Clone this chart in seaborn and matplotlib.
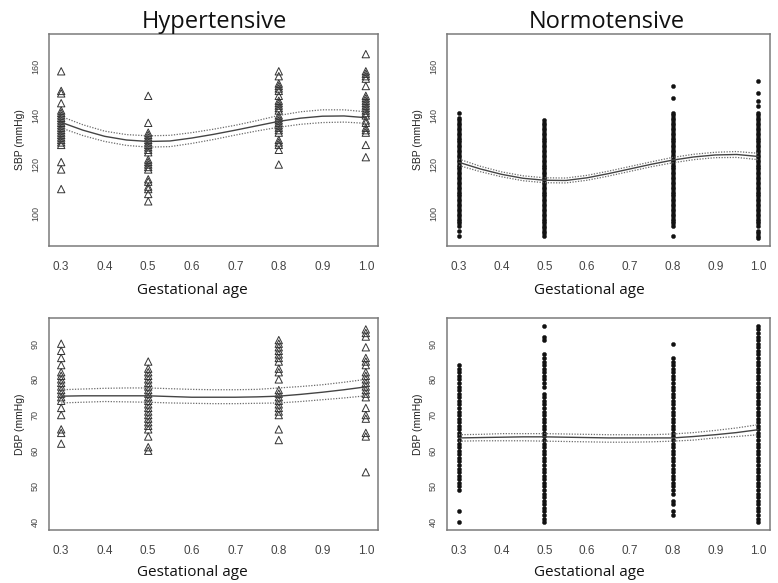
import matplotlib
matplotlib.use("Agg")
import matplotlib.pyplot as plt
import seaborn as sns
import numpy as np
import pandas as pd

# --- DATA ---
GA_LEVELS = [0.3, 0.5, 0.8, 1.0]

# Hypertensive, SBP (mmHg) observed per gestational age
HT_SBP = {
    0.3: [158, 150, 149, 145, 142, 141, 140, 139, 138, 137, 136, 135, 134, 133, 132, 131, 130, 129, 128, 121, 118, 110],
    0.5: [148, 137, 133, 132, 131, 130, 129, 128, 127, 126, 125, 122, 121, 120, 119, 118, 114, 113, 111, 110, 108, 105],
    0.8: [158, 156, 153, 152, 151, 150, 148, 146, 145, 144, 143, 142, 140, 139, 138, 137, 136, 135, 134, 133, 130, 129, 128, 126, 120],
    1.0: [165, 158, 157, 156, 155, 152, 148, 147, 146, 145, 144, 143, 142, 141, 140, 138, 137, 135, 134, 133, 128, 123],
}
# Hypertensive, DBP (mmHg)
HT_DBP = {
    0.3: [90, 88, 86, 84, 82, 81, 80, 79, 78, 77, 76, 75, 74, 72, 70, 66, 65, 62],
    0.5: [85, 83, 82, 81, 80, 79, 78, 77, 76, 75, 74, 73, 72, 71, 70, 69, 68, 67, 66, 64, 61, 60],
    0.8: [91, 90, 89, 88, 87, 86, 85, 83, 82, 80, 77, 76, 75, 74, 73, 72, 71, 70, 66, 63],
    1.0: [94, 93, 92, 89, 86, 85, 84, 82, 81, 80, 79, 78, 77, 76, 75, 72, 70, 69, 65, 64, 54],
}
# Normotensive, SBP (mmHg)
NT_SBP = {
    0.3: [91, 93, 95, 96, 97, 98, 99, 100, 101, 102, 103, 104, 105, 106, 107, 108, 109, 110, 111, 112,
          113, 114, 115, 116, 117, 118, 119, 120, 121, 122, 123, 124, 125, 126, 127, 128, 129, 130, 131,
          132, 133, 134, 135, 136, 137, 138, 139, 141],
    0.5: [91, 92, 93, 94, 95, 96, 97, 98, 99, 100, 101, 102, 103, 104, 105, 106, 107, 108, 109, 110, 111,
          112, 113, 114, 115, 116, 117, 118, 119, 120, 121, 122, 123, 124, 125, 126, 127, 128, 129, 130,
          131, 132, 133, 134, 135, 136, 137, 138],
    0.8: [91, 95, 96, 97, 98, 99, 100, 101, 102, 103, 104, 105, 106, 107, 108, 109, 110, 111, 112, 113,
          114, 115, 116, 117, 118, 119, 120, 121, 122, 123, 124, 125, 126, 127, 128, 129, 130, 131, 132,
          133, 134, 135, 136, 137, 138, 139, 140, 141, 147, 152],
    1.0: [90, 91, 92, 93, 95, 96, 97, 98, 99, 100, 101, 102, 103, 104, 105, 106, 107, 108, 109, 110, 111,
          112, 113, 114, 115, 116, 117, 118, 119, 120, 121, 122, 123, 124, 125, 126, 127, 128, 129, 130,
          131, 132, 133, 134, 135, 136, 137, 138, 139, 140, 141, 144, 146, 149, 154],
}
# Normotensive, DBP (mmHg)
NT_DBP = {
    0.3: [40, 43, 49, 50, 51, 52, 53, 54, 55, 56, 57, 58, 59, 60, 61, 62, 63, 64, 65, 66, 67, 68, 69, 70,
          71, 72, 73, 74, 75, 76, 77, 78, 79, 80, 81, 82, 83, 84],
    0.5: [40, 41, 42, 43, 44, 45, 46, 47, 48, 49, 50, 51, 52, 53, 54, 55, 56, 57, 58, 59, 60, 61, 62, 63,
          64, 65, 66, 67, 68, 69, 70, 71, 72, 73, 74, 75, 76, 78, 79, 80, 81, 82, 83, 84, 85, 86, 87,
          91, 92, 95],
    0.8: [42, 43, 45, 46, 48, 49, 50, 51, 52, 53, 54, 55, 56, 57, 58, 59, 60, 61, 62, 63, 64, 65, 66, 67,
          68, 69, 70, 71, 72, 73, 74, 75, 76, 77, 78, 79, 80, 81, 82, 83, 84, 85, 86, 90],
    1.0: [40, 41, 42, 43, 44, 45, 46, 47, 48, 49, 50, 51, 52, 53, 54, 55, 56, 57, 58, 59, 60, 61, 62, 63,
          64, 65, 66, 67, 68, 69, 70, 71, 72, 73, 74, 75, 76, 77, 78, 79, 80, 81, 82, 83, 84, 85, 86, 87,
          88, 89, 90, 91, 92, 93, 94, 95],
}

# Fitted curves with confidence bands (read at these gestational ages)
FIT_X = [0.30, 0.35, 0.40, 0.45, 0.50, 0.55, 0.60, 0.65, 0.70, 0.75, 0.80, 0.85, 0.90, 0.95, 1.00]

HT_SBP_FIT = [137.2, 134.0, 131.5, 130.0, 129.4, 129.6, 130.8, 132.3, 134.0, 135.8, 137.6, 138.9, 139.7, 139.8, 139.1]
HT_SBP_UP = [139.6, 136.2, 133.6, 132.2, 131.7, 131.9, 133.0, 134.4, 136.0, 137.9, 140.0, 141.5, 142.3, 142.3, 141.5]
HT_SBP_LO = [134.9, 131.8, 129.4, 127.8, 127.1, 127.3, 128.6, 130.2, 132.0, 133.7, 135.2, 136.4, 137.1, 137.3, 136.8]

NT_SBP_FIT = [120.9, 118.2, 116.0, 114.4, 113.6, 113.5, 114.6, 116.3, 118.2, 120.1, 121.8, 123.1, 123.9, 124.1, 123.3]
NT_SBP_UP = [122.2, 119.3, 117.0, 115.4, 114.6, 114.5, 115.6, 117.3, 119.2, 121.1, 122.9, 124.2, 125.0, 125.3, 124.6]
NT_SBP_LO = [119.6, 117.1, 115.0, 113.4, 112.6, 112.5, 113.6, 115.3, 117.2, 119.1, 120.7, 122.0, 122.8, 122.9, 122.0]

HT_DBP_FIT = [75.3, 75.4, 75.4, 75.4, 75.4, 75.2, 75.0, 75.0, 75.0, 75.1, 75.3, 75.8, 76.4, 77.1, 77.9]
HT_DBP_UP = [77.1, 77.3, 77.5, 77.6, 77.6, 77.4, 77.2, 77.1, 77.1, 77.2, 77.6, 78.0, 78.5, 79.2, 80.0]
HT_DBP_LO = [73.4, 73.6, 73.8, 73.7, 73.6, 73.4, 73.3, 73.2, 73.2, 73.3, 73.4, 73.8, 74.3, 74.8, 75.4]

NT_DBP_FIT = [63.6, 63.7, 63.8, 63.9, 63.9, 63.8, 63.7, 63.6, 63.6, 63.6, 63.6, 64.0, 64.5, 65.1, 65.9]
NT_DBP_UP = [64.5, 64.6, 64.8, 64.8, 64.8, 64.7, 64.6, 64.5, 64.5, 64.5, 64.7, 65.1, 65.7, 66.4, 67.3]
NT_DBP_LO = [62.7, 62.8, 62.8, 62.8, 62.7, 62.6, 62.5, 62.4, 62.4, 62.5, 62.7, 63.0, 63.6, 64.0, 64.5]

X_TICKS = [0.3, 0.4, 0.5, 0.6, 0.7, 0.8, 0.9, 1.0]
SBP_TICKS = [100, 120, 140, 160]
DBP_TICKS = [40, 50, 60, 70, 80, 90]

W, H = 778, 583


def to_frame(d):
    rows = [(ga, v) for ga, vals in d.items() for v in vals]
    return pd.DataFrame(rows, columns=["ga", "bp"])


def style_axis(ax, yticks, ylim, ylabel):
    ax.set_xlim(0.272, 1.028)
    ax.set_ylim(*ylim)
    ax.set_xticks(X_TICKS)
    ax.set_xticklabels([f"{t:.1f}" for t in X_TICKS], fontsize=8.5, family="Liberation Sans", color="#444444")
    ax.set_yticks(yticks)
    ax.set_yticklabels([str(t) for t in yticks], rotation=90, va="center",
                       fontsize=6.5, family="Liberation Sans", color="#444444")
    ax.tick_params(axis="both", direction="out", length=4.5, width=0.8, color="#555555", pad=2)
    ax.tick_params(axis="x", pad=6)
    for s in ax.spines.values():
        s.set_visible(True)
        s.set_color("#7a7a7a")
        s.set_linewidth(1.1)
    ax.set_xlabel("")
    ax.set_ylabel(ylabel, fontsize=7.5, family="Liberation Sans", color="#222222", labelpad=4)
    ax.grid(False)


def draw_fit(ax, fit, up, lo):
    sns.lineplot(x=FIT_X, y=fit, ax=ax, color="#444444", linewidth=1.0)
    sns.lineplot(x=FIT_X, y=up, ax=ax, color="#6a6a6a", linewidth=0.9, linestyle=(0, (1, 1.2)))
    sns.lineplot(x=FIT_X, y=lo, ax=ax, color="#6a6a6a", linewidth=0.9, linestyle=(0, (1, 1.2)))


sns.set_theme(style="white")
fig = plt.figure(figsize=(W / 100, H / 100), dpi=100)
fig.patch.set_facecolor("white")

# axes boxes in pixel coordinates (left, top, right, bottom)
boxes = {
    "tl": (49, 34, 378, 246),
    "tr": (447, 34, 770, 246),
    "bl": (49, 318, 378, 530),
    "br": (447, 318, 770, 530),
}
axes = {}
for k, (l, t, r, b) in boxes.items():
    axes[k] = fig.add_axes([l / W, 1 - b / H, (r - l) / W, (b - t) / H])

# Hypertensive: open triangles
for key, data, fit in [("tl", HT_SBP, (HT_SBP_FIT, HT_SBP_UP, HT_SBP_LO)),
                       ("bl", HT_DBP, (HT_DBP_FIT, HT_DBP_UP, HT_DBP_LO))]:
    ax = axes[key]
    df = to_frame(data)
    sns.scatterplot(data=df, x="ga", y="bp", ax=ax, marker="^", s=28,
                    facecolors="none", edgecolor="#333333", linewidth=0.7, legend=False)
    draw_fit(ax, *fit)

# Normotensive: filled dots
for key, data, fit in [("tr", NT_SBP, (NT_SBP_FIT, NT_SBP_UP, NT_SBP_LO)),
                       ("br", NT_DBP, (NT_DBP_FIT, NT_DBP_UP, NT_DBP_LO))]:
    ax = axes[key]
    df = to_frame(data)
    sns.scatterplot(data=df, x="ga", y="bp", ax=ax, marker="o", s=9,
                    color="#111111", edgecolor="#111111", linewidth=0.3, legend=False)
    draw_fit(ax, *fit)

style_axis(axes["tl"], SBP_TICKS, (86.8, 173.2), "SBP (mmHg)")
style_axis(axes["tr"], SBP_TICKS, (86.8, 173.2), "SBP (mmHg)")
style_axis(axes["bl"], DBP_TICKS, (37.8, 97.2), "DBP (mmHg)")
style_axis(axes["br"], DBP_TICKS, (37.8, 97.2), "DBP (mmHg)")

# column titles
fig.text(214 / W, 1 - 22 / H, "Hypertensive", ha="center", va="center",
         fontsize=17, family="Open Sans", color="#111111")
fig.text(607 / W, 1 - 22 / H, "Normotensive", ha="center", va="center",
         fontsize=17, family="Open Sans", color="#111111")

# x labels
for cx, cy in [(192, 291), (589, 291), (192, 573), (589, 573)]:
    fig.text(cx / W, 1 - cy / H, "Gestational age", ha="center", va="center",
             fontsize=11, family="Open Sans", color="#111111")

fig.savefig("out.png", dpi=100)
